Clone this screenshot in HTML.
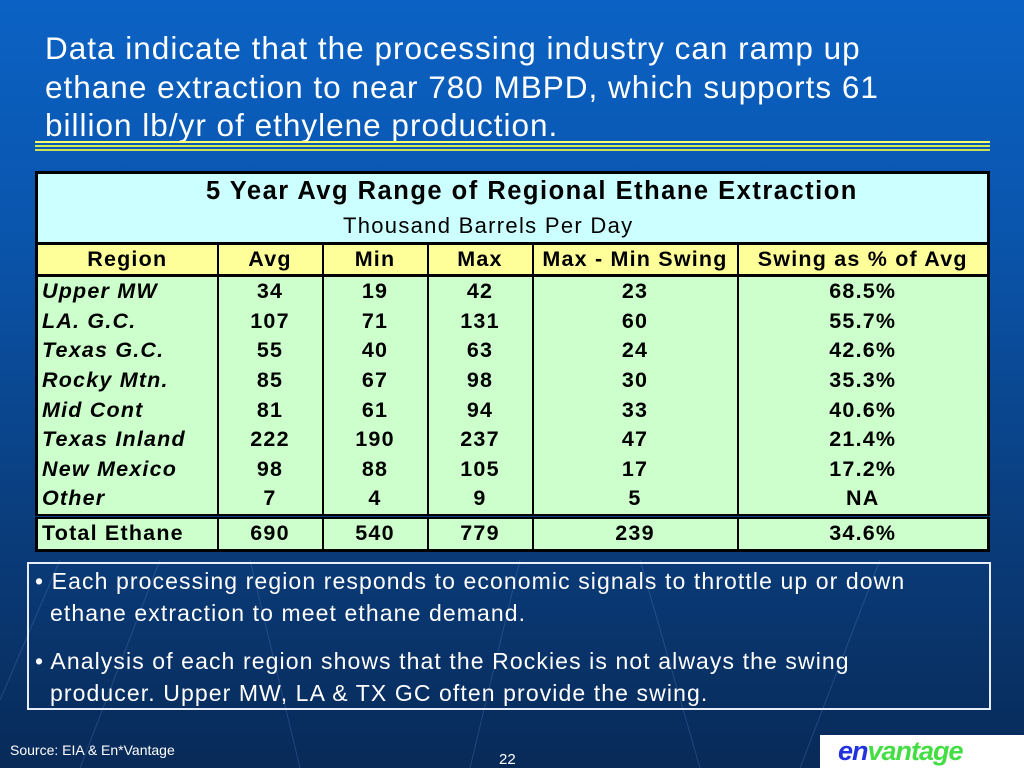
<!DOCTYPE html>
<html><head><meta charset="utf-8"><style>
body{margin:0;width:1024px;height:768px;overflow:hidden;font-family:"Liberation Sans",sans-serif;}
#bg{position:absolute;left:0;top:0;width:1024px;height:768px;background:linear-gradient(180deg,#0b62c4 0%,#0a55ad 30%,#0a3f80 65%,#082a58 100%);}
.t{position:absolute;color:#fff;}
table{position:absolute;left:35px;top:171px;width:955px;border-collapse:collapse;border:3px solid #000;font-weight:bold;font-size:21.5px;letter-spacing:1.2px;table-layout:fixed;}
td{border-left:2px solid #000;text-align:center;padding:0;height:29.6px;line-height:29px;background:#ccffcc;white-space:nowrap;overflow:hidden;}
td:first-child{border-left:none;text-align:left;padding-left:4px;font-style:italic;}
tr.h td{background:#ffff99;border-top:3px solid #000;border-bottom:3px solid #000;height:28px;font-style:normal;text-align:center;padding:0;}
tr.tot td{border-top:5px double #000;height:30px;font-style:normal;}
tr.tt td{background:#ccffff;height:68px;}
</style></head><body>
<div id="bg">
<svg width="1024" height="768" style="position:absolute;left:0;top:0;opacity:.18">
<g stroke="#8fb8ff" stroke-width="1"><line x1="80" y1="768" x2="160" y2="560"/><line x1="300" y1="768" x2="250" y2="560"/><line x1="470" y1="768" x2="520" y2="560"/><line x1="700" y1="768" x2="640" y2="560"/><line x1="800" y1="768" x2="880" y2="560"/><line x1="0" y1="700" x2="60" y2="560"/></g></svg>
</div>
<div class="t" style="left:45px;top:29px;font-size:31.5px;line-height:38.5px;width:860px;letter-spacing:1px;">Data indicate that the processing industry can ramp up ethane extraction to near 780 MBPD, which supports 61 billion lb/yr of ethylene production.</div>
<div style="position:absolute;left:35px;top:141px;width:955px;height:2px;background:#ffff66;box-shadow:0 4px 0 #ccee55;"></div>
<div style="position:absolute;left:35px;top:149px;width:955px;height:2px;background:#cce055;"></div>
<table>
<colgroup><col style="width:181px"><col style="width:105px"><col style="width:105px"><col style="width:105px"><col style="width:205px"><col></colgroup>
<tr class="tt"><td colspan="6" style="text-align:center;font-style:normal;padding:0;position:relative;"><div style="position:absolute;left:168px;top:2px;font-size:25.5px;letter-spacing:1.5px;line-height:30px;white-space:nowrap">5 Year Avg Range of Regional Ethane Extraction</div><div style="position:absolute;left:305px;top:39px;font-size:22px;letter-spacing:1.3px;font-weight:normal;line-height:26px;white-space:nowrap">Thousand Barrels Per Day</div></td></tr>
<tr class="h"><td>Region</td><td>Avg</td><td>Min</td><td>Max</td><td>Max - Min Swing</td><td>Swing as % of Avg</td></tr>
<tr><td>Upper MW</td><td>34</td><td>19</td><td>42</td><td>23</td><td>68.5%</td></tr>
<tr><td>LA. G.C.</td><td>107</td><td>71</td><td>131</td><td>60</td><td>55.7%</td></tr>
<tr><td>Texas G.C.</td><td>55</td><td>40</td><td>63</td><td>24</td><td>42.6%</td></tr>
<tr><td>Rocky Mtn.</td><td>85</td><td>67</td><td>98</td><td>30</td><td>35.3%</td></tr>
<tr><td>Mid Cont</td><td>81</td><td>61</td><td>94</td><td>33</td><td>40.6%</td></tr>
<tr><td>Texas Inland</td><td>222</td><td>190</td><td>237</td><td>47</td><td>21.4%</td></tr>
<tr><td>New Mexico</td><td>98</td><td>88</td><td>105</td><td>17</td><td>17.2%</td></tr>
<tr><td>Other</td><td>7</td><td>4</td><td>9</td><td>5</td><td>NA</td></tr>
<tr class="tot"><td>Total Ethane</td><td>690</td><td>540</td><td>779</td><td>239</td><td>34.6%</td></tr>
</table>
<div style="position:absolute;left:27px;top:562px;width:960px;height:144px;border:2px solid #e8eef8;"></div>
<div class="t" style="left:35px;top:565px;font-size:23px;line-height:32px;letter-spacing:1.1px;white-space:nowrap;">• Each processing region responds to economic signals to throttle up or down<br>&nbsp;&nbsp;ethane extraction to meet ethane demand.</div>
<div class="t" style="left:35px;top:645px;font-size:23px;line-height:32px;letter-spacing:1.1px;white-space:nowrap;">• Analysis of each region shows that the Rockies is not always the swing<br>&nbsp;&nbsp;producer. Upper MW, LA &amp; TX GC often provide the swing.</div>
<div class="t" style="left:10px;top:742px;font-size:14px;">Source: EIA &amp; En*Vantage</div>
<div class="t" style="left:499px;top:751px;font-size:15px;">22</div>
<div style="position:absolute;left:820px;top:735px;width:204px;height:33px;background:#fff;font:italic bold 27px 'Liberation Sans',sans-serif;line-height:33px;padding-left:18px;box-sizing:border-box;letter-spacing:-1px;"><span style="color:#2233dd">en</span><span style="color:#44dd44">vantage</span></div>
</body></html>
